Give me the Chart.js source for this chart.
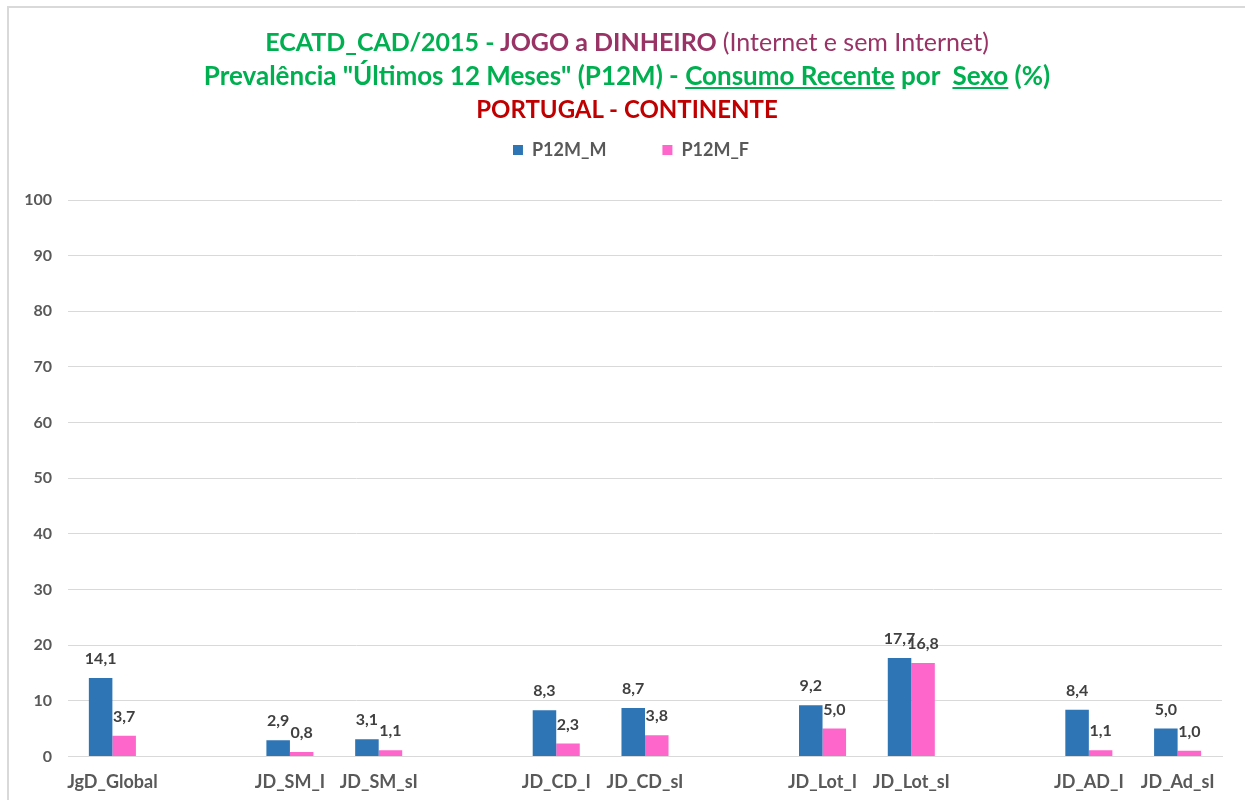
<!DOCTYPE html>
<html>
<head>
<meta charset="utf-8">
<script src="https://cdn.jsdelivr.net/npm/chart.js@4.4.0/dist/chart.umd.min.js"></script>
<style>
  html,body{margin:0;padding:0;background:#fff;}
  #frame{position:absolute;left:7px;top:6px;width:1250px;height:800px;border-top:2px solid #d9d9d9;border-left:2px solid #d9d9d9;}
  #wrap{position:absolute;left:0;top:0;width:1245px;height:800px;}
  #title{position:absolute;left:9px;top:24px;width:1236px;text-align:center;font-family:Lato,"Open Sans",sans-serif;font-size:25px;line-height:34px;font-weight:bold;}
  #title .l2{font-size:26px;}
  #title .l3{font-size:24px;}
  .g{color:#00b050}.p{color:#993366}.r{color:#c00000}.n{font-weight:normal}.u{text-decoration:underline}
</style>
</head>
<body>
<div id="frame"></div>
<div id="wrap"><canvas id="c" width="1245" height="800"></canvas></div>
<div id="title">
  <div><span class="g">ECATD_CAD/2015 - </span><span class="p">JOGO a DINHEIRO </span><span class="p n">(Internet e sem Internet)</span></div>
  <div class="g l2">Prevalência "Últimos 12 Meses" (P12M) - <span class="u">Consumo Recente</span> por &nbsp;<span class="u">Sexo</span> (%)</div>
  <div class="r l3">PORTUGAL - CONTINENTE</div>
</div>
<script>
// categories (empty ones are the gaps between groups)
const categories=['JgD_Global','','JD_SM_I','JD_SM_sI','','JD_CD_I','JD_CD_sI','','JD_Lot_I','JD_Lot_sI','','JD_AD_I','JD_Ad_sI'];
const p12mM=[14.1,null,2.9,3.1,null,8.3,8.7,null,9.2,17.7,null,8.4,5.0];
const p12mF=[3.7,null,0.8,1.1,null,2.3,3.8,null,5.0,16.8,null,1.1,1.0];
const yTicks=[0,10,20,30,40,50,60,70,80,90,100];

const FONT='Lato, "Open Sans", sans-serif';

const valueLabels={
  id:'valueLabels',
  afterDatasetsDraw(chart){
    const ctx=chart.ctx;
    ctx.save();
    ctx.font='bold 16px '+FONT;
    ctx.fillStyle='#404040';
    ctx.textAlign='center';
    ctx.textBaseline='bottom';
    chart.data.datasets.forEach((ds,i)=>{
      chart.getDatasetMeta(i).data.forEach((bar,j)=>{
        const v=ds.data[j];
        if(v==null) return;
        ctx.fillText(v.toFixed(1).replace('.',','),bar.x,bar.y-11);
      });
    });
    ctx.restore();
  }
};

// fixed legend block height so the plot starts under it, and nudge it right a bit
const legendTweak={
  id:'legendTweak',
  beforeInit(chart){
    const lg=chart.legend;
    if(!lg) return;
    const fit=lg.fit, draw=lg.draw;
    lg.fit=function(){ fit.call(this); this.height=115; };
    lg.draw=function(){ const c=this.ctx; c.save(); c.translate(10,0); draw.call(this); c.restore(); };
  }
};

new Chart(document.getElementById('c'),{
  type:'bar',
  data:{labels:categories,datasets:[
    {label:'P12M_M',data:p12mM,backgroundColor:'#2e75b6'},
    {label:'P12M_F',data:p12mF,backgroundColor:'#ff66cc'}
  ]},
  options:{
    responsive:false,animation:false,
    layout:{padding:{top:85,left:20,right:23,bottom:0}},
    categoryPercentage:0.53,barPercentage:1,
    plugins:{
      legend:{labels:{font:{family:FONT,size:18,weight:'bold'},color:'#595959',boxWidth:10,boxHeight:10,padding:56}},
      tooltip:{enabled:false}
    },
    scales:{
      x:{grid:{display:false},border:{color:'#d9d9d9'},
        ticks:{font:{family:FONT,size:18,weight:'bold'},color:'#595959',padding:7,autoSkip:false,maxRotation:0}},
      y:{min:0,max:100,afterBuildTicks(ax){ax.ticks=yTicks.map(v=>({value:v}));},
        afterFit(ax){ax.width=48;},
        grid:{color:'#d9d9d9',drawTicks:false},border:{display:false},
        ticks:{font:{family:FONT,size:16,weight:'bold'},color:'#595959',padding:16}}
    }
  },
  plugins:[legendTweak,valueLabels]
});
</script>
</body>
</html>
